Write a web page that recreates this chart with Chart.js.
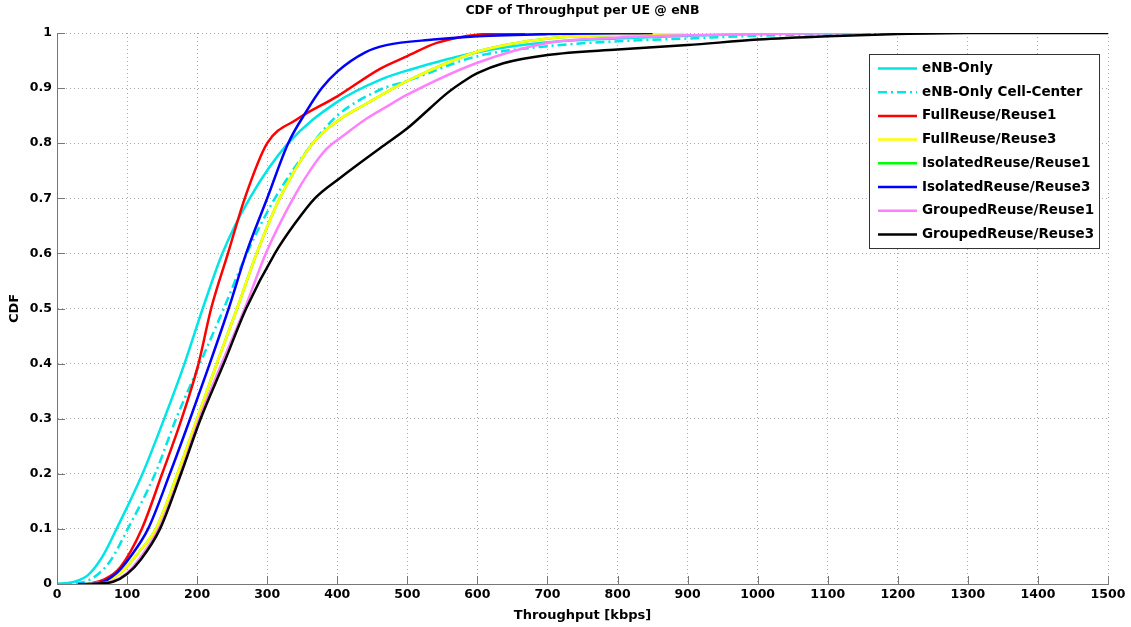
<!DOCTYPE html>
<html>
<head>
<meta charset="utf-8">
<script src="https://cdn.jsdelivr.net/npm/chart.js@4/dist/chart.umd.min.js"></script>
<style>
  html, body { margin: 0; padding: 0; background: #fff; }
  #wrap { width: 1131px; height: 627px; }
</style>
</head>
<body>
<div id="wrap"><canvas id="cdfChart"></canvas></div>
<script>
// throughput [kbps] / CDF pairs
const enbOnly = [[0,0],[25,0.004],[45,0.017],[65,0.05],[85,0.1],[122,0.2],[153,0.3],[182,0.4],[208,0.5],[236,0.6],[275,0.7],[330,0.8],[400,0.875],[461,0.915],[500,0.932],[600,0.965],[700,0.983],[800,0.99],[900,0.995],[1000,0.998],[1100,1]];
const enbCellCenter = [[0,0],[30,0.002],[50,0.01],[75,0.04],[101,0.1],[140,0.2],[170,0.3],[204,0.4],[238,0.5],[271,0.6],[311,0.7],[365,0.8],[400,0.85],[461,0.897],[500,0.913],[600,0.958],[700,0.976],[800,0.985],[900,0.99],[1000,0.995],[1100,0.998],[1200,1]];
const fullReuse1 = [[45,0],[67,0.008],[90,0.03],[121,0.1],[150,0.2],[178,0.3],[202,0.4],[220,0.5],[244,0.6],[268,0.7],[300,0.8],[342,0.843],[400,0.885],[461,0.935],[500,0.958],[542,0.982],[600,0.997],[668,1]];
const fullReuse3 = [[40,0],[70,0.005],[95,0.025],[115,0.055],[141,0.1],[172,0.2],[200,0.3],[228,0.4],[257,0.5],[285,0.6],[318,0.7],[365,0.8],[400,0.84],[442,0.872],[461,0.886],[500,0.913],[600,0.966],[700,0.99],[800,0.997],[900,1]];
const isolatedReuse1 = [[40,0],[70,0.005],[95,0.025],[115,0.055],[141,0.1],[172,0.2],[200,0.3],[228,0.4],[257,0.5],[285,0.6],[318,0.7],[365,0.8],[400,0.84],[442,0.872],[461,0.886],[500,0.913],[600,0.966],[700,0.99],[800,0.997],[900,1]];
const isolatedReuse3 = [[30,0],[60,0.002],[85,0.02],[105,0.05],[130,0.1],[161,0.2],[190,0.3],[218,0.4],[245,0.5],[270,0.6],[300,0.7],[330,0.8],[356,0.858],[378,0.9],[400,0.93],[440,0.965],[470,0.978],[537,0.988],[600,0.994],[700,0.998],[850,1]];
const groupedReuse1 = [[50,0],[80,0.005],[100,0.02],[120,0.05],[145,0.1],[176,0.2],[203,0.3],[235,0.4],[268,0.5],[298,0.6],[337,0.7],[362,0.752],[385,0.79],[410,0.815],[440,0.843],[470,0.866],[500,0.888],[600,0.946],[700,0.982],[800,0.992],[900,0.996],[1000,0.998],[1150,1]];
const groupedReuse3 = [[50,0],[80,0.004],[100,0.018],[120,0.045],[147,0.1],[177,0.2],[205,0.3],[238,0.4],[270,0.5],[311,0.6],[340,0.655],[368,0.7],[404,0.737],[461,0.791],[500,0.827],[532,0.863],[556,0.89],[585,0.916],[600,0.927],[637,0.945],[700,0.96],[800,0.97],[900,0.978],[1000,0.988],[1100,0.994],[1200,0.998],[1300,1],[1500,1]];

const seriesNames = ['eNB-Only', 'eNB-Only Cell-Center', 'FullReuse/Reuse1', 'FullReuse/Reuse3',
  'IsolatedReuse/Reuse1', 'IsolatedReuse/Reuse3', 'GroupedReuse/Reuse1', 'GroupedReuse/Reuse3'];
const seriesData = [enbOnly, enbCellCenter, fullReuse1, fullReuse3, isolatedReuse1, isolatedReuse3, groupedReuse1, groupedReuse3];
const seriesColors = ['#00e5e5', '#00e5e5', '#ff0000', '#ffff00', '#00ff00', '#0000ff', '#ff80ff', '#000000'];
const xTicks = [0, 100, 200, 300, 400, 500, 600, 700, 800, 900, 1000, 1100, 1200, 1300, 1400, 1500];
const yTicks = [0, 0.1, 0.2, 0.3, 0.4, 0.5, 0.6, 0.7, 0.8, 0.9, 1];

const dashDot = [9, 4, 2, 4];
const font = '"DejaVu Sans", Arial, sans-serif';

const datasets = seriesNames.map((name, i) => ({
  label: name,
  data: seriesData[i].map(p => ({ x: p[0], y: p[1] })),
  borderColor: seriesColors[i],
  backgroundColor: seriesColors[i],
  borderWidth: 2.5,
  borderDash: i === 1 ? dashDot : [],
  pointRadius: 0,
  cubicInterpolationMode: 'monotone',
  fill: false,
  // matlab draws later lines on top
  order: i === 4 ? 1 : -i
}));

// inward tick marks, title and legend box
const extras = {
  id: 'extras',
  afterDraw(chart) {
    const { ctx, chartArea, scales } = chart;
    ctx.save();
    ctx.strokeStyle = '#777';
    ctx.lineWidth = 1;
    ctx.beginPath();
    xTicks.forEach(v => {
      const px = Math.round(scales.x.getPixelForValue(v)) + 0.5;
      ctx.moveTo(px, chartArea.bottom);
      ctx.lineTo(px, chartArea.bottom - 8);
    });
    yTicks.forEach(v => {
      const py = Math.round(scales.y.getPixelForValue(v)) + 0.5;
      ctx.moveTo(chartArea.left, py);
      ctx.lineTo(chartArea.left + 8, py);
    });
    ctx.stroke();

    ctx.fillStyle = '#000';
    ctx.font = 'bold 12.5px ' + font;
    ctx.textAlign = 'center';
    ctx.textBaseline = 'middle';
    ctx.fillText('CDF of Throughput per UE @ eNB', (chartArea.left + chartArea.right) / 2, 11);

    // legend
    const bx = 869, by = 54, bw = 230, bh = 194;
    ctx.fillStyle = '#fff';
    ctx.fillRect(bx, by, bw, bh);
    ctx.strokeStyle = '#333';
    ctx.strokeRect(bx + 0.5, by + 0.5, bw, bh);
    ctx.font = 'bold 13.5px ' + font;
    ctx.textAlign = 'left';
    seriesNames.forEach((name, i) => {
      const ry = by + 14.5 + i * 23.7;
      ctx.strokeStyle = seriesColors[i];
      ctx.lineWidth = 2.5;
      ctx.setLineDash(i === 1 ? dashDot : []);
      ctx.beginPath();
      ctx.moveTo(878, ry);
      ctx.lineTo(917, ry);
      ctx.stroke();
      ctx.setLineDash([]);
      ctx.fillStyle = '#000';
      ctx.fillText(name, 922, ry);
    });
    ctx.restore();
  }
};

new Chart(document.getElementById('cdfChart'), {
  type: 'line',
  data: { datasets: datasets },
  options: {
    responsive: true,
    maintainAspectRatio: false,
    animation: false,
    events: [],
    layout: { padding: { left: 0, right: 23, top: 33, bottom: 0 } },
    plugins: {
      legend: { display: false },
      title: { display: false },
      tooltip: { enabled: false }
    },
    scales: {
      x: {
        type: 'linear',
        min: 0,
        max: 1500,
        afterFit: s => { s.height = 43; },
        afterBuildTicks: s => { s.ticks = xTicks.map(v => ({ value: v })); },
        ticks: { color: '#000', padding: 3, maxRotation: 0, autoSkip: false, font: { family: font, size: 12.5, weight: 'bold' },
          callback: v => String(v) },
        grid: { color: '#aaa', drawTicks: false },
        border: { display: true, color: '#777', width: 1, dash: [1, 3] },
        title: { display: true, text: 'Throughput [kbps]', color: '#000', padding: { top: 0, bottom: 4 }, font: { family: font, size: 13, weight: 'bold' } }
      },
      y: {
        type: 'linear',
        min: 0,
        max: 1,
        afterFit: s => { s.width = 57; },
        afterBuildTicks: s => { s.ticks = yTicks.map(v => ({ value: v })); },
        ticks: { color: '#000', padding: 5, autoSkip: false, font: { family: font, size: 12.5, weight: 'bold' },
          callback: v => String(Math.round(v * 10) / 10) },
        grid: { color: '#aaa', drawTicks: false },
        border: { display: true, color: '#777', width: 1, dash: [1, 3] },
        title: { display: true, text: 'CDF', color: '#000', padding: { top: 7, bottom: 0 }, font: { family: font, size: 13, weight: 'bold' } }
      }
    }
  },
  plugins: [extras]
});
</script>
</body>
</html>
